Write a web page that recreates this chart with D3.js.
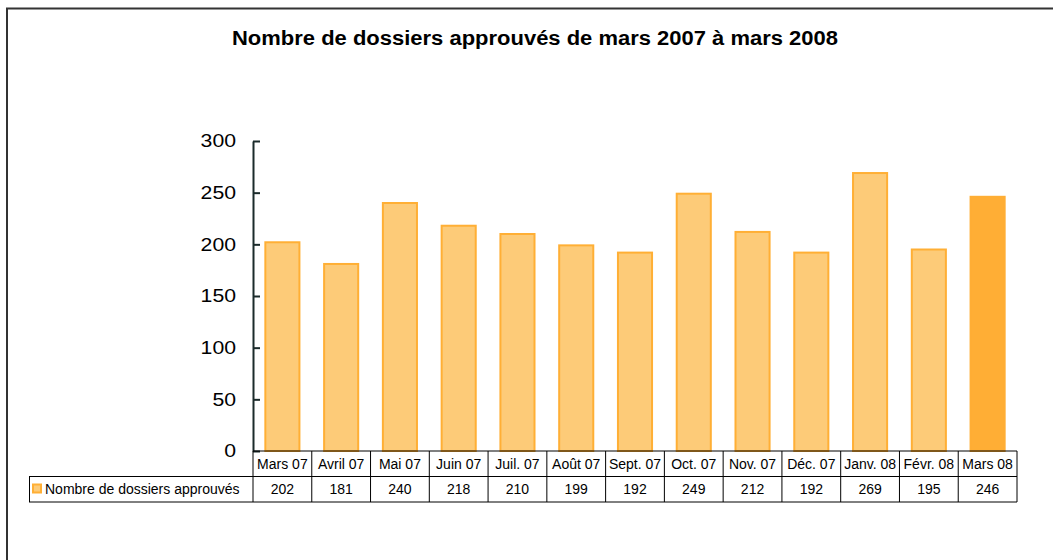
<!DOCTYPE html>
<html>
<head>
<meta charset="utf-8">
<script src="https://cdn.jsdelivr.net/npm/d3@7"></script>
<style>
  body { margin: 0; background: #fff; }
  text { font-family: "Liberation Sans", Arial, sans-serif; }
</style>
</head>
<body>
<div id="chart"></div>
<script>
// data
var months = ["Mars 07", "Avril 07", "Mai 07", "Juin 07", "Juil. 07", "Août 07", "Sept. 07",
  "Oct. 07", "Nov. 07", "Déc. 07", "Janv. 08", "Févr. 08", "Mars 08"];
var approved = [202, 181, 240, 218, 210, 199, 192, 249, 212, 192, 269, 195, 246];
var yTicks = [0, 50, 100, 150, 200, 250, 300];
var seriesName = "Nombre de dossiers approuvés";

var svgWidth = 1053;
var svgHeight = 560;

var plot = { left: 253, right: 1017, top: 141, bottom: 451 };
var rowH = 25.5;

var svg = d3.select("#chart")
  .append("svg")
  .attr("width", svgWidth)
  .attr("height", svgHeight);

// outer frame (cut off on the right and bottom)
svg.append("rect")
  .attr("x", 7)
  .attr("y", 8.5)
  .attr("width", 1200)
  .attr("height", 700)
  .attr("fill", "none")
  .attr("stroke", "#333")
  .attr("stroke-width", 2);

// the original text is a bit wider than Liberation Sans, so stretch it
svg.append("text")
  .attr("x", 232)
  .attr("y", 45)
  .attr("font-size", "19.5px")
  .attr("font-weight", "bold")
  .attr("textLength", 606)
  .attr("lengthAdjust", "spacingAndGlyphs")
  .text("Nombre de dossiers approuvés de mars 2007 à mars 2008");

var xScale = d3.scaleBand()
  .domain(months)
  .range([plot.left, plot.right])
  .paddingInner(0.42)
  .paddingOuter(0.21);

var yScale = d3.scaleLinear()
  .domain([0, 300])
  .range([plot.bottom, plot.top]);

// bars
svg.selectAll("rect.bar")
  .data(approved)
  .enter()
  .append("rect")
  .attr("class", "bar")
  .attr("x", (d, i) => xScale(months[i]))
  .attr("y", d => yScale(d))
  .attr("width", xScale.bandwidth())
  .attr("height", d => yScale(0) - yScale(d))
  .attr("fill", (d, i) => i === approved.length - 1 ? "#FFAE35" : "#FDCB78")
  .attr("stroke", (d, i) => i === approved.length - 1 ? "#FFAE35" : "#FFAF35")
  .attr("stroke-width", 2);

// y axis
var leftAxis = d3.axisLeft(yScale)
  .tickValues(yTicks)
  .tickSizeInner(-7)
  .tickSizeOuter(0)
  .tickPadding(17);

var yAxis = svg.append("g")
  .attr("transform", `translate(${plot.left}, 0)`)
  .call(leftAxis);

yAxis.select(".domain").attr("stroke", "#1b2b2b").attr("stroke-width", 2);
yAxis.selectAll(".tick line").attr("stroke", "#1b2b2b").attr("stroke-width", 2);
yAxis.selectAll(".tick text")
  .attr("font-family", "Liberation Sans, Arial, sans-serif")
  .attr("font-size", "18px")
  .attr("fill", "#000")
  .attr("x", 0)
  .attr("transform", "translate(-17,0) scale(1.18,1)");

// data table under the chart
var table = svg.append("g");
var step = xScale.step();
var row1 = plot.bottom;
var row2 = plot.bottom + rowH;
var row3 = plot.bottom + 2 * rowH;

table.append("line")
  .attr("x1", plot.left).attr("x2", plot.right)
  .attr("y1", row1).attr("y2", row1)
  .attr("stroke", "#000");
table.append("line")
  .attr("x1", 29).attr("x2", plot.right)
  .attr("y1", row2).attr("y2", row2)
  .attr("stroke", "#000");
table.append("line")
  .attr("x1", 29).attr("x2", plot.right)
  .attr("y1", row3).attr("y2", row3)
  .attr("stroke", "#000");
table.append("line")
  .attr("x1", 29.5).attr("x2", 29.5)
  .attr("y1", row2).attr("y2", row3)
  .attr("stroke", "#000");

var seps = d3.range(months.length + 1).map(i => plot.left + i * step);
table.selectAll("line.sep")
  .data(seps)
  .enter()
  .append("line")
  .attr("class", "sep")
  .attr("x1", d => d).attr("x2", d => d)
  .attr("y1", row1).attr("y2", row3)
  .attr("stroke", "#000");

table.selectAll("text.month")
  .data(months)
  .enter()
  .append("text")
  .attr("class", "month")
  .attr("x", d => xScale(d) + xScale.bandwidth() / 2)
  .attr("y", row1 + 17.5)
  .attr("text-anchor", "middle")
  .attr("font-size", "14px")
  .text(d => d);

table.selectAll("text.val")
  .data(approved)
  .enter()
  .append("text")
  .attr("class", "val")
  .attr("x", (d, i) => xScale(months[i]) + xScale.bandwidth() / 2)
  .attr("y", row2 + 17.5)
  .attr("text-anchor", "middle")
  .attr("font-size", "14px")
  .text(d => d);

// legend key
table.append("rect")
  .attr("x", 33)
  .attr("y", row2 + 8)
  .attr("width", 8)
  .attr("height", 8)
  .attr("fill", "#FDCB78")
  .attr("stroke", "#FFAF35")
  .attr("stroke-width", 2);

table.append("text")
  .attr("x", 45)
  .attr("y", row2 + 17.5)
  .attr("font-size", "14px")
  .text(seriesName);
</script>
</body>
</html>
